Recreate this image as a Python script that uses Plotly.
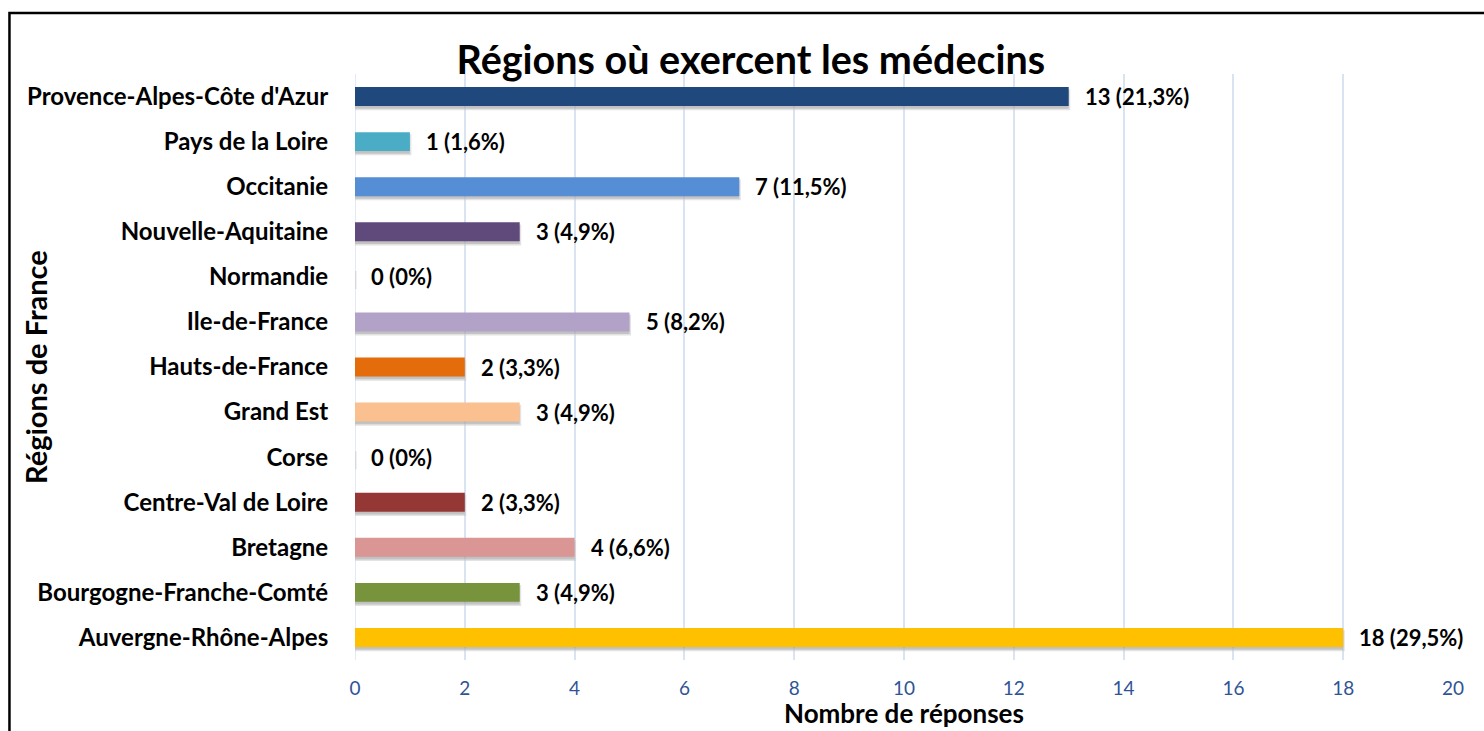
import plotly.graph_objects as go

regions = ["Auvergne-Rhône-Alpes", "Bourgogne-Franche-Comté", "Bretagne", "Centre-Val de Loire",
           "Corse", "Grand Est", "Hauts-de-France", "Ile-de-France", "Normandie",
           "Nouvelle-Aquitaine", "Occitanie", "Pays de la Loire", "Provence-Alpes-Côte d'Azur"]
counts = [18, 3, 4, 2, 0, 3, 2, 5, 0, 3, 7, 1, 13]
percents = ["29,5%", "4,9%", "6,6%", "3,3%", "0%", "4,9%", "3,3%", "8,2%", "0%", "4,9%", "11,5%", "1,6%", "21,3%"]
colors = ["#FFC000", "#77933C", "#D99694", "#953735", "#7F7F7F", "#FAC090", "#E46C0A",
          "#B3A2C7", "#7F7F7F", "#604A7B", "#558ED5", "#4BACC6", "#1F497D"]
x_ticks = list(range(0, 21, 2))

FONT = "Lato"

fig = go.Figure()
# shadow
fig.add_trace(go.Bar(
    y=regions, x=counts, orientation="h", width=0.40, offset=-0.27,
    marker=dict(color="rgba(150,150,150,0.6)", line=dict(color="rgba(200,200,200,0.5)", width=3)),
    hoverinfo="skip", showlegend=False))
fig.add_trace(go.Bar(
    y=regions, x=counts, orientation="h", width=0.42, offset=-0.21,
    marker=dict(color=colors, line=dict(width=0)), showlegend=False))

for r, c, p in zip(regions, counts, percents):
    fig.add_annotation(x=c, y=r, text=f"{c} ({p})", xanchor="left", yanchor="middle",
                       xshift=14, showarrow=False,
                       font=dict(family=FONT, size=22, color="black", weight="bold"))

# axis titles
fig.add_annotation(text="<b>Nombre de réponses</b>", xref="paper", yref="paper",
                   x=0.5, y=(660 - 713) / 586, xanchor="center", yanchor="middle",
                   showarrow=False, font=dict(family=FONT, size=26, color="black"))
fig.add_annotation(text="<b>Régions de France</b>", xref="paper", yref="paper",
                   x=(35 - 355) / 1098, y=0.5, xanchor="center", yanchor="middle", textangle=-90,
                   showarrow=False, font=dict(family=FONT, size=29, color="black"))

# outer frame
fig.add_shape(type="path", xref="paper", yref="paper",
              path="M -0.3147,-0.2 L -0.3147,1.104 L 1.05,1.104",
              line=dict(color="black", width=2.5))

fig.update_layout(
    width=1484, height=731,
    margin=dict(l=355, r=31, t=74, b=71, autoexpand=False),
    paper_bgcolor="white", plot_bgcolor="white",
    barmode="overlay",
    title=dict(text="<b>Régions où exercent les médecins</b>", x=0.506, xref="container",
               y=1 - 60 / 731, yref="container", xanchor="center", yanchor="middle",
               font=dict(family=FONT, size=39.5, color="black")),
    xaxis=dict(range=[0, 20], tickvals=x_ticks, showgrid=True, gridcolor="#D9E3F2", gridwidth=1.5,
               zeroline=False, showline=False, ticks="outside", ticklen=11, tickcolor="rgba(0,0,0,0)",
               tickfont=dict(family=FONT, size=19, color="#2F5496"),
               fixedrange=True),
    yaxis=dict(range=[-0.5, 12.5], showgrid=False, zeroline=False, showline=False,
               ticks="outside", ticklen=21, tickcolor="rgba(0,0,0,0)",
               tickfont=dict(family=FONT, size=24, color="black", weight="bold"),
               fixedrange=True),
)
fig.add_vline(x=0, line=dict(color="#D9E3F2", width=1.5), layer="below")

fig.write_html("out.html", config={"displayModeBar": False},
               post_script="document.body.style.margin='0';")
